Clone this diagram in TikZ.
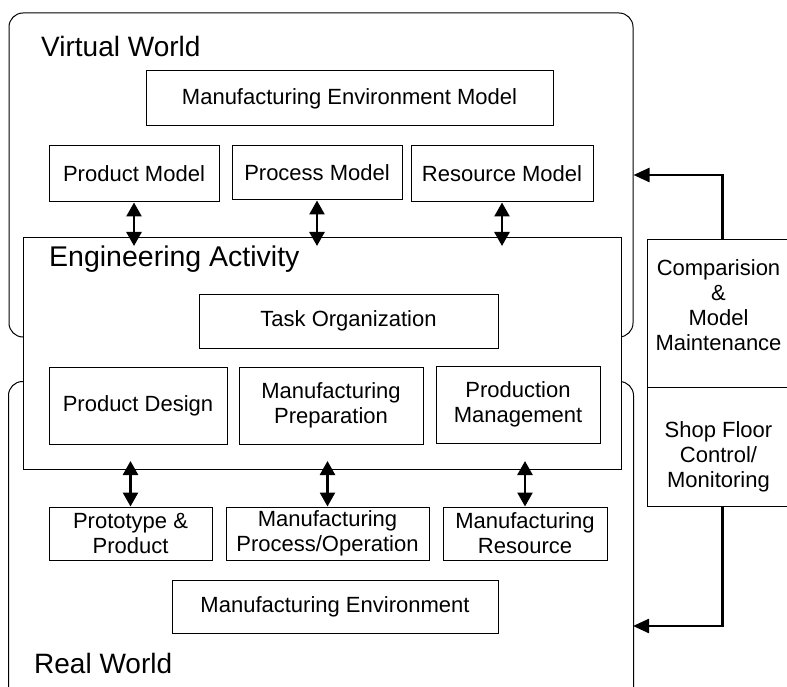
\documentclass[tikz,border=0pt]{standalone}
\usepackage{fontspec}
\setmainfont{Liberation Sans}
\usetikzlibrary{arrows.meta,calc}
\begin{document}
\begin{tikzpicture}[x=1pt,y=-1pt,
  box/.style={draw, line width=1pt, fill=white, inner sep=0pt, align=center, font=\fontsize{22}{25}\selectfont},
  cell/.style={draw, line width=1pt, inner sep=0pt, minimum width=142pt, anchor=north west},
  txt/.style={inner sep=0pt, align=center, font=\fontsize{22}{25}\selectfont},
  world/.style={draw, line width=1pt, rounded corners=14pt, inner sep=0pt},
  title/.style={anchor=base west, inner sep=0pt, font=\fontsize{28}{32}\selectfont},
  dbl/.style={line width=2.6pt, {Triangle[length=14pt,width=15pt]}-{Triangle[length=14pt,width=15pt]}},
  fb/.style={line width=2.4pt, -{Triangle[length=16pt,width=14pt]}}]
\clip (0,0) rectangle (787,687);
% worlds
\node[world, minimum width=624pt, minimum height=324pt] (vw) at (321,175) {};
\node[world, minimum width=625pt, minimum height=330pt, anchor=north west] (rw) at (8,381) {};
\node[box, minimum width=598pt, minimum height=232pt, anchor=north west] (ea) at (23,237) {};
% titles
\node[title] (vwt) at (41,57) {Virtual World};
\node[title, font=\fontsize{28.5}{32}\selectfont] (eat) at (49,266) {Engineering Activity};
\node[title] (rwt) at (34,673) {Real World};
% virtual world boxes
\node[box, minimum width=407pt, minimum height=55pt] (mem) at (349.5,98.5) {Manufacturing Environment Model};
\node[box, minimum width=170pt, minimum height=56pt] (pm) at (134,174) {Product Model};
\node[box, minimum width=170pt, minimum height=54pt] (prm) at (317,173) {Process Model};
\node[box, minimum width=182pt, minimum height=56pt] (rm) at (502,174) {Resource Model};
% engineering boxes
\node[box, minimum width=299pt, minimum height=54pt] (to) at (348.5,321) {Task Organization};
\node[box, minimum width=178pt, minimum height=77pt] (pd) at (138,405.5) {Product Design};
\node[box, minimum width=184pt, minimum height=77pt] (mp) at (331,405.5) {Manufacturing\\Preparation};
\node[box, minimum width=164pt, minimum height=77pt] (prodm) at (518,404.5) {Production\\Management};
% real world boxes
\node[box, minimum width=163pt, minimum height=53pt] (pp) at (130.5,533.5) {Prototype \&\\Product};
\node[box, minimum width=203pt, minimum height=53pt] (mpo) at (327.5,533.5) {Manufacturing\\Process/Operation};
\node[box, minimum width=164pt, minimum height=53pt] (mr) at (525,533.5) {Manufacturing\\Resource};
\node[box, minimum width=326pt, minimum height=53pt] (me) at (335,606.5) {Manufacturing Environment};
% right side
\node[cell, minimum height=148pt] (cmm) at (647,239) {};
\node[cell, minimum height=119pt] (sfc) at (647,387) {};
\node[txt] (cmmt) at ($(cmm.center)+(0,-8)$) {Comparision\\\&\\Model\\Maintenance};
\node[txt] (sfct) at ($(sfc.center)+(0,10)$) {Shop Floor\\Control/\\Monitoring};
\coordinate (rwin) at (633,626);
% arrows
\draw[dbl] (pm.south) -- ($(pm.south |- ea.north)+(0,9)$);
\draw[dbl] (prm.south) -- ($(prm.south |- ea.north)+(0,9)$);
\draw[dbl] (rm.south) -- ($(rm.south |- ea.north)+(0,9)$);
\draw[dbl] (pp.north) -- ($(pp.north |- ea.south)+(0,-9)$);
\draw[dbl] (mpo.north) -- ($(mpo.north |- ea.south)+(0,-9)$);
\draw[dbl] (mr.north) -- ($(mr.north |- ea.south)+(0,-9)$);
\draw[fb] ($(cmm.north)+(4,0)$) |- (vw.east);
\draw[fb] ($(sfc.south)+(4,0)$) |- (rwin);
\end{tikzpicture}
\end{document}
